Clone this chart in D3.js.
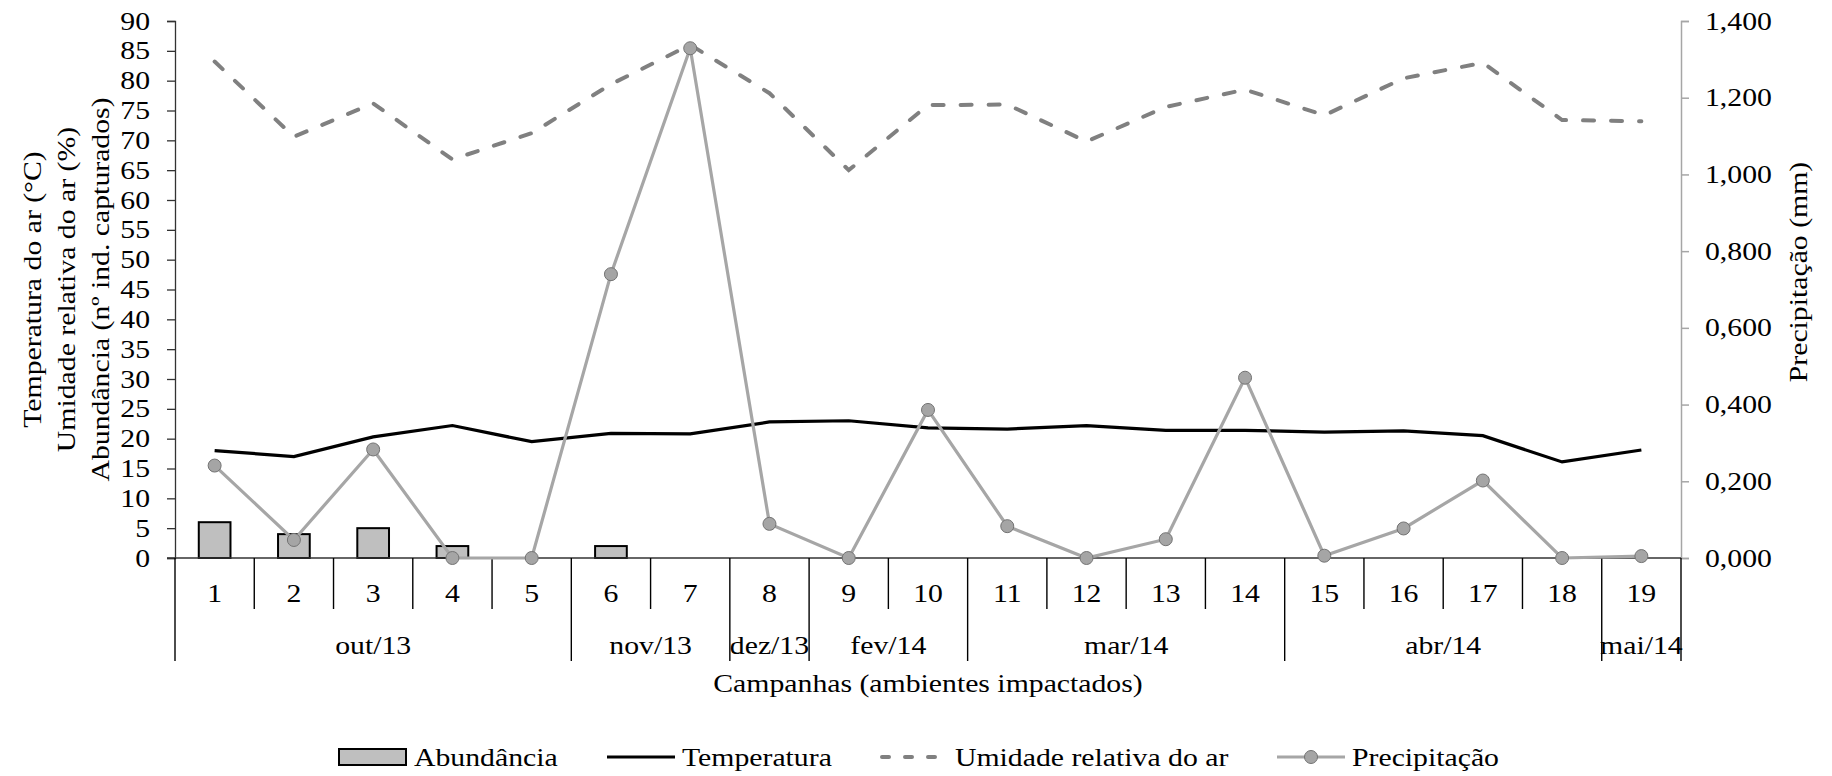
<!DOCTYPE html>
<html>
<head>
<meta charset="utf-8">
<script src="https://cdn.jsdelivr.net/npm/d3@7"></script>
<style>
  body { margin: 0; background: white; }
  svg text { font-family: "Liberation Serif", "Times New Roman", serif; fill: black; }
</style>
</head>
<body>
<div class="chart"></div>
<script>
const campaigns = d3.range(1, 20).map(String)
const months = [
  { label: "out/13", from: 1, to: 5 },
  { label: "nov/13", from: 6, to: 7 },
  { label: "dez/13", from: 8, to: 8 },
  { label: "fev/14", from: 9, to: 10 },
  { label: "mar/14", from: 11, to: 14 },
  { label: "abr/14", from: 15, to: 18 },
  { label: "mai/14", from: 19, to: 19 },
]
const abundance = [6, 4, 5, 2, 0, 2, 0, 0, 0, 0, 0, 0, 0, 0, 0, 0, 0, 0, 0]
const temperature = [18.0, 17.0, 20.3, 22.2, 19.5, 20.9, 20.8, 22.8, 23.0, 21.8, 21.6, 22.2, 21.4, 21.4, 21.1, 21.3, 20.5, 16.1, 18.1]
const humidity = [83.2, 70.6, 76.2, 66.8, 71.2, 79.4, 86.0, 77.9, 65.0, 75.9, 76.0, 69.8, 75.6, 78.5, 74.2, 80.4, 83.0, 73.4, 73.2]
const precipitation = [0.241, 0.047, 0.283, 0, 0, 0.740, 1.329, 0.089, 0, 0.386, 0.083, 0, 0.049, 0.470, 0.006, 0.077, 0.202, 0, 0.005]
const leftTicks = d3.range(0, 91, 5)
const rightTicks = d3.range(0, 1.41, 0.2)

const SX = 1.19  // the original font is wider than Liberation Serif

const dimensions = {
  width: 1832,
  height: 776,
  margin: { top: 21, right: 151, bottom: 218, left: 175 },
}
dimensions.boundedWidth = dimensions.width - dimensions.margin.left - dimensions.margin.right
dimensions.boundedHeight = dimensions.height - dimensions.margin.top - dimensions.margin.bottom

const wrapper = d3.select(".chart")
  .append("svg")
  .attr("width", dimensions.width)
  .attr("height", dimensions.height)

const bounds = wrapper.append("g")
  .attr("transform", `translate(${dimensions.margin.left},${dimensions.margin.top})`)

// widen text glyphs horizontally (along reading direction)
function stretch(sel) {
  sel.each(function () {
    const t = d3.select(this)
    const x = +t.attr("x") || 0
    const y = +t.attr("y") || 0
    t.attr("x", 0).attr("y", 0)
      .attr("transform", `translate(${x},${y}) scale(${SX},1)`)
  })
}

const xScale = d3.scaleBand()
  .domain(campaigns)
  .range([0, dimensions.boundedWidth])
  .padding(0)

const yLeft = d3.scaleLinear()
  .domain([0, 90])
  .range([dimensions.boundedHeight, 0])

const yRight = d3.scaleLinear()
  .domain([0, 1.4])
  .range([dimensions.boundedHeight, 0])

const ptBR = d3.formatLocale({ decimal: ",", thousands: ".", grouping: [3], currency: ["", ""] })
const fmt3 = ptBR.format(".3f")

const xCenter = (d, i) => xScale(campaigns[i]) + xScale.bandwidth() / 2

// bars
const barW = xScale.bandwidth() * 0.4
const barData = abundance.map((v, i) => ({ c: campaigns[i], v })).filter(d => d.v > 0)
bounds.append("g").selectAll("rect")
  .data(barData)
  .enter().append("rect")
  .attr("x", d => xScale(d.c) + (xScale.bandwidth() - barW) / 2)
  .attr("y", d => yLeft(d.v))
  .attr("width", barW)
  .attr("height", d => yLeft(0) - yLeft(d.v))
  .attr("fill", "#bfbfbf")
  .attr("stroke", "black")
  .attr("stroke-width", 2)

// axes
const yAxisLeft = bounds.append("g")
  .call(d3.axisLeft(yLeft).tickValues(leftTicks).tickSize(8).tickPadding(17))
yAxisLeft.select(".domain").attr("stroke", "#333").attr("stroke-width", 1.3)
yAxisLeft.selectAll(".tick line").attr("stroke", "#333").attr("stroke-width", 1.3)
yAxisLeft.selectAll("text").attr("font-size", 25).attr("fill", "black").call(stretch)

const yAxisRight = bounds.append("g")
  .attr("transform", `translate(${dimensions.boundedWidth},0)`)
  .call(d3.axisRight(yRight).tickValues(rightTicks).tickFormat(fmt3).tickSize(8).tickPadding(16))
yAxisRight.select(".domain").attr("stroke", "#a6a6a6").attr("stroke-width", 1.5)
yAxisRight.selectAll(".tick line").attr("stroke", "#a6a6a6").attr("stroke-width", 1.5)
yAxisRight.selectAll("text").attr("font-size", 25).attr("fill", "black").call(stretch)

// category axis
const catAxis = bounds.append("g").attr("transform", `translate(0,${dimensions.boundedHeight})`)
catAxis.append("line")
  .attr("x1", -8).attr("x2", dimensions.boundedWidth)
  .attr("stroke", "#333").attr("stroke-width", 1.3)

const monthEdges = new Set([0].concat(months.map(m => m.to)))
catAxis.selectAll(".sep")
  .data(d3.range(0, campaigns.length + 1))
  .enter().append("line")
  .attr("x1", d => d * xScale.bandwidth())
  .attr("x2", d => d * xScale.bandwidth())
  .attr("y1", 0)
  .attr("y2", d => monthEdges.has(d) ? 103 : 51)
  .attr("stroke", "black")
  .attr("stroke-width", 1.4)

catAxis.selectAll(".cat")
  .data(campaigns)
  .enter().append("text")
  .attr("x", d => xScale(d) + xScale.bandwidth() / 2)
  .attr("y", 35)
  .attr("dy", "0.35em")
  .attr("font-size", 25)
  .attr("text-anchor", "middle")
  .text(d => d)
  .call(stretch)

catAxis.selectAll(".month")
  .data(months)
  .enter().append("text")
  .attr("x", d => (xScale(String(d.from)) + xScale(String(d.to)) + xScale.bandwidth()) / 2)
  .attr("y", 87)
  .attr("dy", "0.35em")
  .attr("font-size", 25)
  .attr("text-anchor", "middle")
  .text(d => d.label)
  .call(stretch)

catAxis.append("text")
  .attr("x", dimensions.boundedWidth / 2)
  .attr("y", 125)
  .attr("dy", "0.35em")
  .attr("font-size", 25)
  .attr("text-anchor", "middle")
  .text("Campanhas (ambientes impactados)")
  .call(stretch)

// axis titles
const leftTitle = ["Temperatura do ar (°C)", "Umidade relativa do ar (%)", "Abundância (nº ind. capturados)"]
wrapper.selectAll(".ltitle")
  .data(leftTitle)
  .enter().append("text")
  .attr("transform", (d, i) => `translate(${32 + i * 34},${dimensions.margin.top + dimensions.boundedHeight / 2}) rotate(-90) scale(${SX},1)`)
  .attr("dy", "0.35em")
  .attr("font-size", 25)
  .attr("text-anchor", "middle")
  .text(d => d)

wrapper.append("text")
  .attr("transform", `translate(1798,272) rotate(-90) scale(${SX},1)`)
  .attr("dy", "0.35em")
  .attr("font-size", 25)
  .attr("text-anchor", "middle")
  .text("Precipitação (mm)")

// lines
const humidityLine = d3.line()
  .x(xCenter)
  .y(d => yLeft(d))
bounds.append("path")
  .attr("d", humidityLine(humidity))
  .attr("fill", "none")
  .attr("stroke", "#808080")
  .attr("stroke-width", 4)
  .attr("stroke-dasharray", "11 17")
  .attr("stroke-linecap", "round")

const tempLine = d3.line()
  .x(xCenter)
  .y(d => yLeft(d))
bounds.append("path")
  .attr("d", tempLine(temperature))
  .attr("fill", "none")
  .attr("stroke", "black")
  .attr("stroke-width", 3.2)

const precipLine = d3.line()
  .x(xCenter)
  .y(d => yRight(d))
bounds.append("path")
  .attr("d", precipLine(precipitation))
  .attr("fill", "none")
  .attr("stroke", "#a6a6a6")
  .attr("stroke-width", 3.2)

bounds.append("g").selectAll("circle")
  .data(precipitation)
  .enter().append("circle")
  .attr("cx", xCenter)
  .attr("cy", d => yRight(d))
  .attr("r", 6.5)
  .attr("fill", "#a5a5a5")
  .attr("stroke", "#737373")
  .attr("stroke-width", 1)

// legend
const legend = wrapper.append("g").attr("transform", "translate(0,757)")
legend.append("rect")
  .attr("x", 339).attr("y", -8).attr("width", 67).attr("height", 16)
  .attr("fill", "#bfbfbf").attr("stroke", "black").attr("stroke-width", 2)
legend.append("line")
  .attr("x1", 607).attr("x2", 675)
  .attr("stroke", "black").attr("stroke-width", 3.2)
legend.append("line")
  .attr("x1", 882).attr("x2", 948)
  .attr("stroke", "#808080").attr("stroke-width", 4)
  .attr("stroke-dasharray", "7 16").attr("stroke-linecap", "round")
legend.append("line")
  .attr("x1", 1277).attr("x2", 1345)
  .attr("stroke", "#a6a6a6").attr("stroke-width", 3.2)
legend.append("circle")
  .attr("cx", 1311).attr("r", 6.5)
  .attr("fill", "#a5a5a5").attr("stroke", "#737373")

const legendItems = [
  { x: 414, label: "Abundância" },
  { x: 682, label: "Temperatura" },
  { x: 955, label: "Umidade relativa do ar" },
  { x: 1352, label: "Precipitação" },
]
legend.selectAll(".ltext")
  .data(legendItems)
  .enter().append("text")
  .attr("x", d => d.x)
  .attr("y", 0)
  .attr("dy", "0.35em")
  .attr("font-size", 25)
  .text(d => d.label)
  .call(stretch)
</script>
</body>
</html>
